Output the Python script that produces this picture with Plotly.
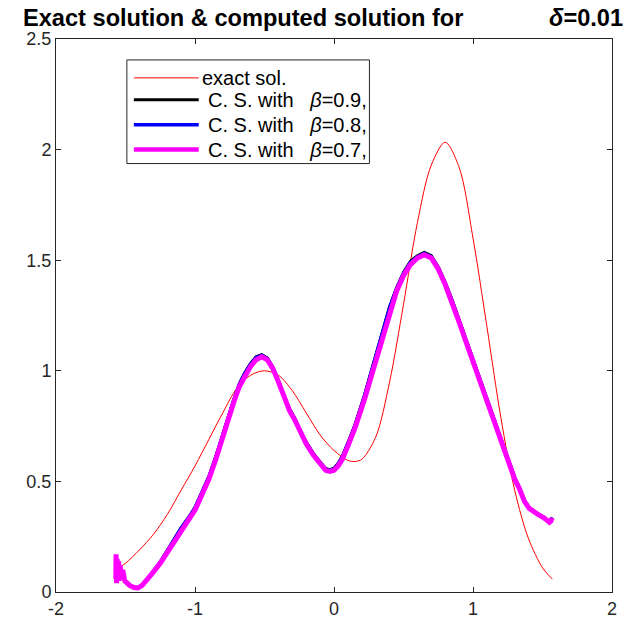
import plotly.graph_objects as go

# ---------------- data ----------------
red_x = [-1.571, -1.5, -1.4, -1.3, -1.2, -1.1, -1.0, -0.9, -0.8, -0.7, -0.6, -0.5, -0.4, -0.3,
         -0.2, -0.1, 0.0, 0.1, 0.15, 0.2, 0.3, 0.4, 0.5, 0.6, 0.7, 0.8, 0.9, 1.0, 1.1, 1.2,
         1.3, 1.4, 1.5, 1.571]
red_y = [0.10, 0.13, 0.19, 0.26, 0.35, 0.46, 0.57, 0.69, 0.81, 0.92, 0.98, 1.0, 0.98, 0.91,
         0.81, 0.71, 0.64, 0.595, 0.59, 0.60, 0.70, 0.95, 1.30, 1.67, 1.93, 2.033, 1.92, 1.60, 1.20, 0.79,
         0.46, 0.24, 0.11, 0.058]

cs_x = [-1.570, -1.568, -1.564, -1.560, -1.555, -1.550, -1.545, -1.538, -1.530, -1.520, -1.505,
        -1.490, -1.470, -1.440, -1.410, -1.380, -1.350, -1.300, -1.250, -1.200, -1.150, -1.100,
        -1.040, -1.000, -0.950, -0.900, -0.850, -0.800, -0.765, -0.720, -0.680, -0.640, -0.600,
        -0.560, -0.520, -0.480, -0.440, -0.400, -0.360, -0.320, -0.284, -0.250, -0.200, -0.150,
        -0.100, -0.060, -0.030, 0.000, 0.030, 0.060, 0.100, 0.150, 0.219, 0.260, 0.300, 0.350,
        0.400, 0.450, 0.500, 0.550, 0.600, 0.650, 0.700, 0.750, 0.800, 0.850, 0.900, 0.950,
        1.000, 1.050, 1.100, 1.150, 1.200, 1.250, 1.300, 1.332, 1.370, 1.404, 1.440, 1.476,
        1.510, 1.530, 1.550, 1.560, 1.570]

beta07_y = [0.06, 0.17, 0.04, 0.15, 0.06, 0.14, 0.05, 0.12, 0.07, 0.10, 0.05,
            0.04, 0.03, 0.02, 0.018, 0.03, 0.05, 0.09, 0.13, 0.18, 0.23, 0.28,
            0.33, 0.37, 0.44, 0.51, 0.60, 0.70, 0.78, 0.86, 0.93, 0.98, 1.02,
            1.05, 1.063, 1.05, 1.01, 0.95, 0.88, 0.82, 0.78, 0.73, 0.67, 0.62,
            0.58, 0.55, 0.545, 0.55, 0.57, 0.60, 0.66, 0.74, 0.87, 0.96, 1.05, 1.16,
            1.27, 1.36, 1.43, 1.48, 1.51, 1.525, 1.51, 1.46, 1.39, 1.31, 1.22, 1.13,
            1.04, 0.95, 0.86, 0.77, 0.68, 0.59, 0.51, 0.47, 0.41, 0.378, 0.36, 0.347,
            0.335, 0.324, 0.315, 0.32, 0.335]

beta08_y = [0.07, 0.16, 0.05, 0.14, 0.07, 0.13, 0.06, 0.11, 0.07, 0.09, 0.05,
            0.04, 0.03, 0.022, 0.02, 0.032, 0.052, 0.093, 0.135, 0.186, 0.237, 0.288,
            0.34, 0.38, 0.45, 0.52, 0.61, 0.71, 0.79, 0.87, 0.94, 0.99, 1.03,
            1.06, 1.07, 1.055, 1.015, 0.955, 0.885, 0.825, 0.785, 0.735, 0.675, 0.625,
            0.585, 0.555, 0.55, 0.556, 0.578, 0.61, 0.67, 0.75, 0.885, 0.975, 1.065, 1.175,
            1.285, 1.37, 1.44, 1.49, 1.515, 1.53, 1.515, 1.465, 1.395, 1.315, 1.225, 1.135,
            1.045, 0.955, 0.865, 0.775, 0.685, 0.595, 0.515, 0.472, 0.412, 0.38, 0.362, 0.349,
            0.337, 0.326, 0.317, 0.322, 0.336]

beta09_y = [0.07, 0.16, 0.05, 0.14, 0.07, 0.13, 0.06, 0.11, 0.07, 0.09, 0.05,
            0.04, 0.03, 0.022, 0.02, 0.033, 0.053, 0.094, 0.136, 0.188, 0.24, 0.29,
            0.343, 0.383, 0.453, 0.523, 0.613, 0.713, 0.793, 0.873, 0.943, 0.993, 1.033,
            1.063, 1.073, 1.058, 1.018, 0.958, 0.888, 0.828, 0.788, 0.738, 0.678, 0.628,
            0.588, 0.558, 0.553, 0.56, 0.582, 0.615, 0.675, 0.755, 0.89, 0.98, 1.07, 1.18,
            1.29, 1.375, 1.445, 1.495, 1.52, 1.535, 1.52, 1.47, 1.4, 1.32, 1.23, 1.14,
            1.05, 0.96, 0.87, 0.78, 0.69, 0.6, 0.518, 0.474, 0.414, 0.382, 0.364, 0.35,
            0.338, 0.327, 0.318, 0.323, 0.337]

legend_labels = ["exact sol.",
                 "C. S. with&nbsp;&nbsp;&nbsp;<i>β</i>=0.9,",
                 "C. S. with&nbsp;&nbsp;&nbsp;<i>β</i>=0.8,",
                 "C. S. with&nbsp;&nbsp;&nbsp;<i>β</i>=0.7,"]
x_ticks = [-2, -1, 0, 1, 2]
y_ticks = [0, 0.5, 1, 1.5, 2, 2.5]

# ---------------- figure ----------------
W, H = 629, 631
L, R, T, B = 56, 613, 39, 594
FONT = "Liberation Sans, Arial, Helvetica, sans-serif"
AX = "#262626"


def px(x):
    return (x - L) / (R - L)


def py(y):
    return (B - y) / (B - T)


fig = go.Figure()
fig.add_trace(go.Scatter(x=red_x, y=red_y, mode="lines",
                         line=dict(color="#ff0000", width=1, shape="spline", smoothing=0.9),
                         name=legend_labels[0], showlegend=False))
fig.add_trace(go.Scatter(x=cs_x, y=beta09_y, mode="lines", line=dict(color="#000000", width=3),
                         name=legend_labels[1], showlegend=False))
fig.add_trace(go.Scatter(x=cs_x, y=beta08_y, mode="lines", line=dict(color="#0000ff", width=3.5),
                         name=legend_labels[2], showlegend=False))
fig.add_trace(go.Scatter(x=cs_x, y=beta07_y, mode="lines", line=dict(color="#ff00ff", width=5),
                         name=legend_labels[3], showlegend=False))

# custom legend (box + samples + texts)
shapes = [dict(type="rect", xref="paper", yref="paper", x0=px(127), x1=px(370), y0=py(164), y1=py(60),
               line=dict(color=AX, width=1), fillcolor="white", layer="above")]
rows = [(78, "#ff0000", 1), (100, "#000000", 3), (125, "#0000ff", 3.5), (150, "#ff00ff", 4.5)]
annotations = []
for i, (yy, col, wd) in enumerate(rows):
    shapes.append(dict(type="line", xref="paper", yref="paper", x0=px(134), x1=px(199), y0=py(yy), y1=py(yy),
                       line=dict(color=col, width=wd), layer="above"))
    annotations.append(dict(xref="paper", yref="paper", x=px(200 if i == 0 else 206), y=py(yy),
                            xanchor="left", yanchor="middle", showarrow=False, text=legend_labels[i],
                            font=dict(family=FONT, size=20, color="#000000")))

annotations.append(dict(xref="paper", yref="paper", x=px(21), y=py(18), xanchor="left", yanchor="middle",
                        showarrow=False, text="<b>Exact solution &amp; computed solution for</b>",
                        font=dict(family=FONT, size=23.6, color="#000000")))
annotations.append(dict(xref="paper", yref="paper", x=px(626), y=py(18), xanchor="right", yanchor="middle",
                        showarrow=False, text="<b><i>δ</i>=0.01</b>",
                        font=dict(family=FONT, size=23.6, color="#000000")))

axis_common = dict(showline=True, mirror="ticks", linecolor=AX, linewidth=1, ticks="inside", ticklen=5,
                   tickcolor=AX, tickwidth=1, showgrid=False, zeroline=False,
                   tickfont=dict(family=FONT, size=18, color=AX))
fig.update_layout(
    width=W, height=H, margin=dict(l=L, r=W - R, t=T, b=H - B, pad=0),
    paper_bgcolor="white", plot_bgcolor="white", showlegend=False,
    xaxis=dict(range=[-2, 2], tickvals=x_ticks, ticktext=[str(v) for v in x_ticks], **axis_common),
    yaxis=dict(range=[0, 2.5], tickvals=y_ticks, ticktext=[("%g" % v) for v in y_ticks], **axis_common),
    shapes=shapes, annotations=annotations,
)
fig.write_html("out.html")
